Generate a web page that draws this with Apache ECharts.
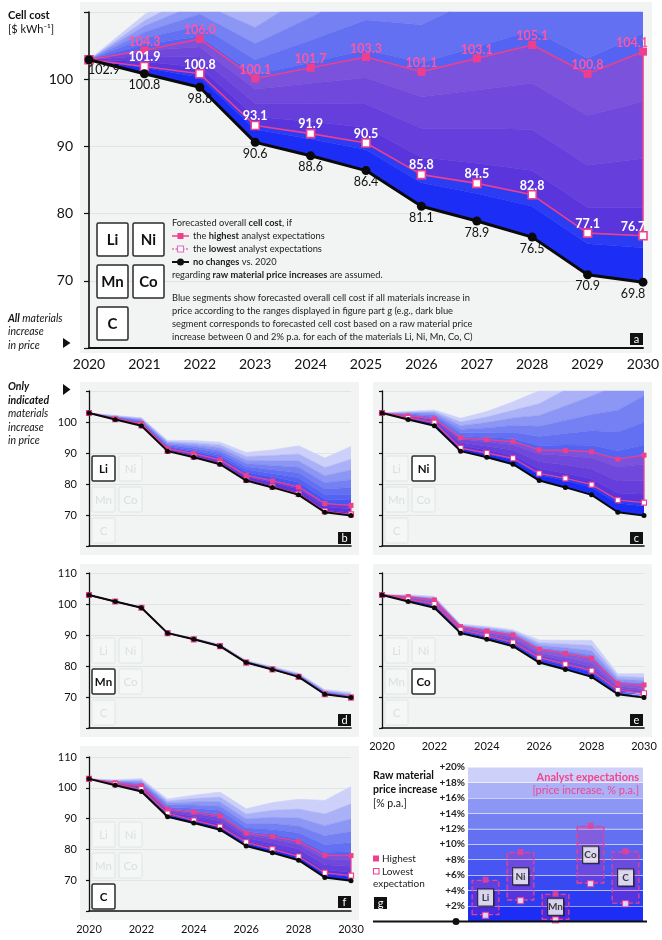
<!DOCTYPE html>
<html><head><meta charset="utf-8">
<script src="https://cdn.jsdelivr.net/npm/echarts/dist/echarts.min.js"></script>
<style>html,body{margin:0;padding:0;background:#fff}#c{width:662px;height:940px}</style>
</head><body><div id="c"></div>
<script>
// ---------------- DATA ----------------
const years = ['2020','2021','2022','2023','2024','2025','2026','2027','2028','2029','2030'];
const noChange = [102.9,100.8,98.8,90.6,88.6,86.4,81.1,78.9,76.5,70.9,69.8];

// panel a : all materials
const allHigh = [102.9,104.3,106.0,100.1,101.7,103.3,101.1,103.1,105.1,100.8,104.1];
const allLow  = [102.9,101.9,100.8,93.1,91.9,90.5,85.8,84.5,82.8,77.1,76.7];
const bandsAll = [
  [102.9,101.7,100.3,92.5,91.1,89.5,84.6,83.0,81.1,75.5,74.9],
  [102.9,102.6,101.8,94.4,93.7,92.8,88.4,87.5,86.4,80.9,80.9],
  [102.9,103.5,103.3,96.4,96.4,96.3,92.7,92.7,92.5,87.2,88.2],
  [102.9,104.3,104.8,98.5,99.4,100.2,97.4,98.4,99.4,94.6,96.7],
  [102.9,105.2,106.4,100.7,102.5,104.4,102.5,104.8,107.3,103.1,106.8],
  [102.9,106.1,108.0,102.9,105.8,108.8,108.1,112.0,116.2,112.9,118.7],
  [102.9,107.0,109.7,105.3,109.2,113.6,114.2,119.9,126.4,124.3,132.6],
  [102.9,107.9,111.3,107.7,112.9,118.7,120.9,128.8,137.8,137.3,148.9],
  [102.9,108.7,113.0,110.2,116.7,124.3,128.2,138.6,150.7,152.3,168.0],
  [102.9,109.6,114.7,112.7,120.7,130.1,136.1,149.4,165.3,169.5,190.3]
];
// panel b : Li
const liHigh = [102.9,101.2,99.5,91.4,89.8,87.8,82.8,81.0,79.0,73.7,73.1];
const liLow  = [102.9,100.9,98.9,90.7,88.8,86.6,81.3,79.1,76.8,71.2,70.2];
const bandsLi = [
  [102.9,100.9,99.0,90.9,89.0,86.9,81.7,79.6,77.3,71.7,70.7],
  [102.9,101.1,99.3,91.2,89.5,87.4,82.3,80.4,78.3,72.7,71.9],
  [102.9,101.2,99.5,91.5,89.9,88.0,83.0,81.3,79.4,73.8,73.2],
  [102.9,101.3,99.8,91.9,90.4,88.7,83.8,82.3,80.6,75.1,74.8],
  [102.9,101.5,100.1,92.2,90.9,89.3,84.7,83.4,82.0,76.6,76.7],
  [102.9,101.6,100.3,92.5,91.5,90.1,85.6,84.6,83.6,78.4,78.9],
  [102.9,101.7,100.6,92.9,92.1,90.8,86.6,86.0,85.4,80.4,81.4],
  [102.9,101.8,100.9,93.3,92.7,91.7,87.7,87.5,87.4,82.7,84.5],
  [102.9,102.0,101.2,93.7,93.3,92.6,88.9,89.2,89.7,85.3,88.0],
  [102.9,102.1,101.4,94.1,94.0,93.5,90.2,91.0,92.3,88.4,92.1]
];
// panel c : Ni
const niHigh = [102.9,102.0,101.0,94.9,94.3,93.7,91.0,90.8,90.4,88.0,89.3];
const niLow  = [102.9,101.3,99.8,91.6,90.0,88.3,83.4,81.8,79.8,74.8,74.0];
const bandsNi = [
  [102.9,101.1,99.3,91.5,89.7,87.8,82.9,81.1,78.9,73.8,72.9],
  [102.9,101.3,99.8,92.4,91.0,89.3,85.0,83.5,81.7,77.1,76.7],
  [102.9,101.6,100.3,93.4,92.2,91.0,87.2,86.2,84.8,81.0,81.1],
  [102.9,101.9,100.7,94.4,93.6,92.7,89.7,89.2,88.4,85.5,86.4],
  [102.9,102.1,101.3,95.4,95.0,94.7,92.4,92.6,92.5,90.7,92.6],
  [102.9,102.4,101.8,96.5,96.5,96.7,95.3,96.3,97.2,96.8,99.9],
  [102.9,102.7,102.3,97.6,98.1,98.9,98.6,100.5,102.4,103.8,108.5],
  [102.9,102.9,102.9,98.8,99.8,101.3,102.1,105.2,108.4,111.8,118.6],
  [102.9,103.2,103.4,100.0,101.6,103.8,105.9,110.4,115.1,121.1,130.3],
  [102.9,103.5,103.9,101.2,103.4,106.5,110.1,116.1,122.7,131.6,144.0]
];
// panel d : Mn
const mnHigh = [102.9,100.8,98.8,90.6,88.7,86.5,81.2,79.0,76.6,71.0,70.0];
const mnLow  = [102.9,100.8,98.8,90.6,88.6,86.4,81.1,78.9,76.5,70.9,69.8];
const bandsMn = [
  [102.9,100.8,98.8,90.6,88.6,86.4,81.1,78.9,76.6,71.0,69.9],
  [102.9,100.8,98.8,90.6,88.7,86.5,81.2,79.0,76.6,71.0,70.0],
  [102.9,100.8,98.8,90.7,88.7,86.5,81.2,79.1,76.7,71.1,70.1],
  [102.9,100.8,98.9,90.7,88.7,86.6,81.3,79.2,76.8,71.2,70.2],
  [102.9,100.8,98.9,90.7,88.8,86.6,81.4,79.2,76.9,71.4,70.4],
  [102.9,100.8,98.9,90.7,88.8,86.7,81.4,79.3,77.0,71.5,70.5],
  [102.9,100.9,98.9,90.8,88.8,86.7,81.5,79.4,77.1,71.7,70.7],
  [102.9,100.9,98.9,90.8,88.9,86.8,81.6,79.5,77.3,71.9,71.0],
  [102.9,100.9,98.9,90.8,88.9,86.9,81.7,79.7,77.5,72.1,71.3],
  [102.9,100.9,99.0,90.9,89.0,86.9,81.8,79.8,77.7,72.4,71.6]
];
// panel e : Co
const coHigh = [102.9,102.4,101.3,92.7,91.3,90.0,85.4,84.1,82.5,74.4,73.9];
const coLow  = [102.9,101.5,100.0,91.7,89.8,87.6,82.7,80.6,78.5,72.3,71.2];
const bandsCo = [
  [102.9,101.0,99.2,90.9,89.0,86.9,81.6,79.5,77.2,71.3,70.2],
  [102.9,101.3,99.6,91.2,89.4,87.4,82.2,80.2,77.9,71.7,70.7],
  [102.9,101.5,100.0,91.6,89.8,87.9,82.9,81.0,78.8,72.2,71.2],
  [102.9,101.8,100.4,91.9,90.2,88.5,83.6,81.8,79.8,72.8,71.9],
  [102.9,102.0,100.8,92.3,90.7,89.2,84.3,82.8,81.0,73.5,72.7],
  [102.9,102.2,101.2,92.6,91.2,89.8,85.2,83.9,82.3,74.3,73.6],
  [102.9,102.4,101.6,92.9,91.6,90.4,85.9,84.9,83.5,75.0,74.4],
  [102.9,102.6,101.9,93.1,92.0,90.9,86.7,85.9,84.9,75.8,75.3],
  [102.9,102.8,102.2,93.3,92.4,91.3,87.5,87.1,86.6,76.7,76.3],
  [102.9,103.0,102.5,93.5,92.8,91.7,88.4,88.3,88.3,77.5,77.5]
];
// panel f : C
const cHigh = [102.9,101.6,100.6,93.0,92.1,90.9,85.3,84.2,82.6,78.1,78.0];
const cLow  = [102.9,101.2,99.6,91.7,89.4,87.4,82.3,80.1,77.7,72.4,71.5];
const bandsC = [
  [102.9,101.0,99.2,91.1,89.3,87.3,81.9,79.8,77.5,72.1,71.1],
  [102.9,101.2,99.6,91.6,90.0,88.2,82.7,80.9,78.7,73.4,72.6],
  [102.9,101.3,100.0,92.1,90.8,89.2,83.7,82.1,80.1,75.0,74.5],
  [102.9,101.5,100.4,92.7,91.6,90.3,84.7,83.4,81.6,76.9,76.6],
  [102.9,101.7,100.8,93.3,92.5,91.4,85.8,84.9,83.4,79.1,79.2],
  [102.9,101.9,101.2,93.8,93.4,92.7,87.0,86.5,85.4,81.5,82.2],
  [102.9,102.0,101.7,94.5,94.4,94.0,88.4,88.4,87.6,84.4,85.8],
  [102.9,102.2,102.1,95.1,95.4,95.4,89.9,90.4,90.2,87.7,89.9],
  [102.9,102.4,102.5,95.7,96.5,97.0,91.5,92.7,93.1,91.5,94.8],
  [102.9,102.6,103.0,96.4,97.6,98.6,93.2,95.2,96.3,95.9,100.4]
];
// panel g : raw material price increase expectations (% p.a.)
const materials = ['Li','Ni','Mn','Co','C'];
const expHigh = [5.4, 9.0, 3.6, 12.4, 9.1];
const expLow  = [0.8, 2.7, 0.2, 4.9, 2.3];

// ---------------- STYLE ----------------
const FONT = 'Lato, "Open Sans", sans-serif';
const PINK = '#ee3f8e';
const PINK_FILL = 'rgba(235,30,150,0.25)';
const BAND = ['#1c2df5','#2b3cf3','#3949f2','#4756f2','#5563f2','#6370f2','#7580f3','#8c96f4','#aab1f6','#cdd1f9'];
const BG = '#f2f4f4';
const GRIDLINE = '#e0e4e4';

const panels = [
  {key:'a', grid:{left:89,top:12,width:554,height:336}, bands:bandsAll, high:allHigh, low:allLow, big:true,  xLab:true,  yMode:'hide110', active:'all'},
  {key:'b', grid:{left:89,top:391,width:262,height:155}, bands:bandsLi, high:liHigh, low:liLow, big:false, xLab:false, yMode:'hide110', active:'Li'},
  {key:'c', grid:{left:382,top:391,width:262,height:155}, bands:bandsNi, high:niHigh, low:niLow, big:false, xLab:false, yMode:'none', active:'Ni'},
  {key:'d', grid:{left:89,top:573,width:262,height:155}, bands:bandsMn, high:mnHigh, low:mnLow, big:false, xLab:false, yMode:'show110', active:'Mn'},
  {key:'e', grid:{left:382,top:573,width:262,height:155}, bands:bandsCo, high:coHigh, low:coLow, big:false, xLab:true, yMode:'none', active:'Co'},
  {key:'f', grid:{left:89,top:757,width:262,height:154}, bands:bandsC, high:cHigh, low:cLow, big:false, xLab:true, yMode:'show110', active:'C'}
];

const grids = [], xAxes = [], yAxes = [], series = [];

panels.forEach((p, idx) => {
  grids.push(Object.assign({outerBoundsMode:'none', containLabel:false}, p.grid));
  xAxes.push({type:'category', gridIndex:idx, data:years, boundaryGap:false,
    axisLine:{onZero:false, lineStyle:{color:'#111', width:p.big?2:1.6}},
    axisTick:{show:false}, splitLine:{show:false},
    axisLabel:{show:p.xLab, interval:p.big?0:1, color:'#111', fontFamily:FONT, fontSize:p.big?14:11, margin:p.big?9:12.5}});
  yAxes.push({type:'value', gridIndex:idx, min:60, max:110, interval:10,
    axisLine:{show:true, onZero:false, lineStyle:{color:'#111', width:p.big?1.6:1.3}},
    axisTick:{show:true, length:p.big?5:3, lineStyle:{color:'#111', width:1.2}},
    splitLine:{show:true, lineStyle:{color:GRIDLINE, width:1}},
    axisLabel:{show:p.yMode!=='none', color:'#111', fontFamily:FONT, fontSize:p.big?14:11, margin:p.big?16:12,
      formatter:v => (v===60 || (p.yMode==='hide110' && v===110)) ? '' : String(v)}});

  const base = {xAxisIndex:idx, yAxisIndex:idx, silent:true, animation:false, showSymbol:false};
  // band stack on top of the "no changes" line
  series.push(Object.assign({type:'line', stack:'band'+idx, data:noChange.slice(), symbol:'none', lineStyle:{width:0, color:BAND[0]}, z:2}, base));
  let prev = noChange;
  p.bands.forEach((b,k) => {
    const pr = prev;
    series.push(Object.assign({type:'line', stack:'band'+idx, data:b.map((v,i)=>+(v-pr[i]).toFixed(3)),
      symbol:'none', lineStyle:{width:0.6, color:BAND[k]}, itemStyle:{color:BAND[k]}, areaStyle:{color:BAND[k], opacity:1}, z:2}, base));
    prev = b;
  });
  // pink range between lowest and highest
  series.push(Object.assign({type:'line', stack:'pink'+idx, data:p.low.slice(), symbol:'none', lineStyle:{width:0, color:PINK}, z:3}, base));
  series.push(Object.assign({type:'line', stack:'pink'+idx, data:p.high.map((v,i)=>+(v-p.low[i]).toFixed(3)),
    symbol:'none', lineStyle:{width:0, color:PINK}, itemStyle:{color:PINK_FILL}, areaStyle:{color:PINK_FILL, opacity:1}, z:3}, base));
  series.push(Object.assign({type:'line', data:[[years[10],p.low[10]],[years[10],p.high[10]]], symbol:'none', lineStyle:{color:PINK, width:p.big?1.6:1.2}, z:4}, base));

  const lab = (show, pos, color, weight, dist) => ({show, position:pos, color, fontWeight:weight, fontFamily:FONT, fontSize:12.5, distance:dist,
    formatter: q => q.dataIndex===0 ? '' : Number(q.value).toFixed(1)});
  const lineBase = Object.assign({}, base, {showSymbol:true});
  // highest
  series.push(Object.assign({type:'line', data:p.high.map((v,i)=>{
      const d = {value:v};
      if (p.big && i===10) d.label = {offset:[-11,0]};
      return d; }),
    symbol:'rect', symbolSize:p.big?8:5, lineStyle:{color:PINK, width:p.big?1.6:1.3}, itemStyle:{color:PINK},
    label: lab(p.big, 'top', '#ff55a2', 'bold', -2), z:5}, lineBase));
  // lowest
  series.push(Object.assign({type:'line', data:p.low.map((v,i)=>{
      const d = {value:v};
      if (p.big && i===10) d.label = {offset:[-10,0]};
      return d; }),
    symbol:'rect', symbolSize:p.big?8:5, lineStyle:{color:PINK, width:p.big?1.6:1.3}, itemStyle:{color:'#fff', borderColor:PINK, borderWidth:p.big?1.6:1.1},
    label: lab(p.big, 'top', '#ffffff', 'bold', -2), z:6}, lineBase));
  // no changes
  series.push(Object.assign({type:'line', data:noChange.map((v,i)=>{
      const d = {value:v};
      if (p.big && i===0) d.label = {offset:[15,-1]};
      if (p.big && i===10) d.label = {offset:[-10,0]};
      return d; }),
    symbol:'circle', symbolSize:p.big?9:5, lineStyle:{color:'#0a0a0a', width:p.big?3:2}, itemStyle:{color:'#0a0a0a'},
    label: Object.assign(lab(p.big, 'bottom', '#111', 'normal', 0.5), {formatter:q=>Number(q.value).toFixed(1)}), z:7}, lineBase));
});

// panel g grid
const gi = panels.length;
grids.push({left:468, top:767, width:175, height:154.5, outerBoundsMode:'none', containLabel:false});
xAxes.push({type:'category', gridIndex:gi, data:materials, axisLine:{show:false}, axisTick:{show:false}, axisLabel:{show:false}, splitLine:{show:false}});
yAxes.push({type:'value', gridIndex:gi, min:0, max:20, interval:2,
  axisLine:{show:false}, axisTick:{show:false},
  splitArea:{show:true, areaStyle:{color:BAND, opacity:1}},
  splitLine:{show:true, lineStyle:{color:'rgba(255,255,255,0.55)', width:1}},
  axisLabel:{show:true, color:'#222', fontFamily:FONT, fontWeight:'bold', fontSize:10, margin:3,
    formatter:v => v===0 ? '' : '+' + v + '%'}});
const gb = {xAxisIndex:gi, yAxisIndex:gi, silent:true, animation:false};
series.push(Object.assign({type:'bar', stack:'g', data:expLow, barWidth:28, itemStyle:{color:'rgba(0,0,0,0)'}, z:3}, gb));
series.push(Object.assign({type:'bar', stack:'g', data:expHigh.map((v,i)=>+(v-expLow[i]).toFixed(2)), barWidth:28,
  itemStyle:{color:'rgba(235,30,150,0.22)', borderColor:PINK, borderWidth:1.3, borderType:'dashed'}, z:3}, gb));
series.push(Object.assign({type:'scatter', data:expHigh, symbol:'rect', symbolSize:6, itemStyle:{color:PINK}, z:5}, gb));
series.push(Object.assign({type:'scatter', data:expLow, symbol:'rect', symbolSize:6, itemStyle:{color:'#fff', borderColor:PINK, borderWidth:1.2}, z:5}, gb));
series.push(Object.assign({type:'scatter', data:expHigh.map((v,i)=>({value:(v+expLow[i])/2, name:materials[i]})),
  symbol:'rect', symbolSize:[16,17],
  itemStyle:{color:'#fff', borderColor:'#111', borderWidth:1, shadowColor:'rgba(0,0,0,0.3)', shadowBlur:1, shadowOffsetX:1, shadowOffsetY:1},
  label:{show:true, position:'inside', formatter:q=>q.name, color:'#111', fontFamily:FONT, fontWeight:'bold', fontSize:10}, z:6}, gb));

// ---------------- GRAPHICS ----------------
const G = [];
const T = (x,y,text,opt) => ({type:'text', x, y, z:100, silent:true,
  style:Object.assign({text, fontFamily:FONT, fontSize:10, fill:'#222', align:'left', verticalAlign:'middle'}, opt||{})});
const R = (x,y,w,h,style,z) => ({type:'rect', z:z===undefined?100:z, silent:true, shape:{x,y,width:w,height:h}, style});

// panel backgrounds
G.push(R(80,2,572,351,{fill:BG},-10));
G.push(R(80,382,279,173,{fill:BG},-10));
G.push(R(373,382,279,173,{fill:BG},-10));
G.push(R(80,564,279,173,{fill:BG},-10));
G.push(R(373,564,279,173,{fill:BG},-10));
G.push(R(80,746,279,174,{fill:BG},-10));

// element boxes
function elemBoxes(ox, oy, w, h, dx, dy, fs, active) {
  const pos = {Li:[0,0], Ni:[dx,0], Mn:[0,dy], Co:[dx,dy], C:[0,2*dy]};
  materials.forEach(m => {
    const on = active==='all' || active===m;
    const x = ox+pos[m][0], y = oy+pos[m][1];
    G.push({type:'rect', z:100, silent:true, shape:{x,y,width:w,height:h,r:1.5},
      style:{fill:on?'#ffffff':'#f5f7f7', stroke:on?'#2a2a2a':'#e0e4e4', lineWidth:on?1.5:1}});
    G.push(T(x+w/2, y+h/2+0.5, m, {align:'center', fontSize:fs, fontWeight:on?'bold':'normal', fill:on?'#111':'#dadfdf'}));
  });
}
elemBoxes(97,223,31,33,36,42,15,'all');
const smallOff = {b:[0,0], c:[293,0], d:[0,182], e:[293,182], f:[0,366]};
panels.slice(1).forEach(p => {
  const o = smallOff[p.key];
  elemBoxes(92+o[0], 456+o[1], 23, 25, 27, 31, 11.5, p.active);
});

// panel letters
function letter(x,y,ch){ G.push(R(x,y,13,12,{fill:'#111'})); G.push(T(x+6.5,y+6,ch,{align:'center', fill:'#fff', fontSize:11})); }
letter(630,333,'a'); letter(338,532,'b'); letter(630,532,'c');
letter(338,714,'d'); letter(630,714,'e'); letter(338,896,'f'); letter(374,897,'g');

// left titles
G.push(T(8,15.5,'Cell cost',{fontWeight:'bold', fontSize:11, fill:'#111'}));
G.push(T(8,29,'[$ kWh\u207B\u00B9]',{fontSize:11, fill:'#111'}));
const it = {fontStyle:'italic', fontSize:10.5, fill:'#111', rich:{b:{fontStyle:'italic', fontWeight:'bold', fontSize:10.5, fontFamily:FONT, fill:'#111'}}};
G.push(T(8,318.5,'{b|All} materials',it));
G.push(T(8,332,'increase',it));
G.push(T(8,345.5,'in price',it));
G.push({type:'polygon', z:100, silent:true, shape:{points:[[63,338],[70.5,343],[63,348]]}, style:{fill:'#111'}});
G.push(T(8,387,'{b|Only}',it));
G.push(T(8,400.5,'{b|indicated}',it));
G.push(T(8,414,'materials',it));
G.push(T(8,427.5,'increase',it));
G.push(T(8,441,'in price',it));
G.push({type:'polygon', z:100, silent:true, shape:{points:[[63,384],[70.5,389.5],[63,395]]}, style:{fill:'#111'}});

// legend panel a
const lg = {fontSize:9.3, fill:'#222', rich:{b:{fontWeight:'bold', fontSize:9.3, fontFamily:FONT, fill:'#222'}}};
G.push(T(172,223,'Forecasted overall {b|cell cost}, if',lg));
G.push({type:'line', z:100, silent:true, shape:{x1:172,y1:236,x2:189,y2:236}, style:{stroke:PINK, lineWidth:1.5}});
G.push(R(177.5,233,6,6,{fill:PINK}));
G.push(T(193,236,'the {b|highest} analyst expectations',lg));
G.push({type:'line', z:100, silent:true, shape:{x1:172,y1:249,x2:189,y2:249}, style:{stroke:'#e070c0', lineWidth:1.5, lineDash:[2,1.5]}});
G.push(R(177.5,246,6,6,{fill:'#fff', stroke:'#e070c0', lineWidth:1.2}));
G.push(T(193,249,'the {b|lowest} analyst expectations',lg));
G.push({type:'line', z:100, silent:true, shape:{x1:172,y1:262,x2:189,y2:262}, style:{stroke:'#111', lineWidth:2}});
G.push({type:'circle', z:100, silent:true, shape:{cx:180.5,cy:262,r:3.5}, style:{fill:'#111'}});
G.push(T(193,262,'{b|no changes} vs. 2020',lg));
G.push(T(172,274.5,'regarding {b|raw material price increases} are assumed.',lg));
G.push(T(172,297.5,'Blue segments show forecasted overall cell cost if all materials increase in',lg));
G.push(T(172,310.5,'price according to the ranges displayed in figure part g (e.g., dark blue',lg));
G.push(T(172,323.5,'segment corresponds to forecasted cell cost based on a raw material price',lg));
G.push(T(172,336.5,'increase between 0 and 2% p.a. for each of the materials Li, Ni, Mn, Co, C)',lg));

// panel g texts
G.push(T(373,776,'Raw material',{fontWeight:'bold', fontSize:10.5, fill:'#111'}));
G.push(T(373,789.5,'price increase',{fontWeight:'bold', fontSize:10.5, fill:'#111'}));
G.push(T(373,803.5,'[% p.a.]',{fontSize:10.5, fill:'#111'}));
G.push(T(639,777,'Analyst expectations',{align:'right', fontWeight:'bold', fontSize:11, fill:'#f0468f'}));
G.push(T(639,790.5,'[price increase, % p.a.]',{align:'right', fontSize:11, fill:'#f0468f'}));
G.push(R(373,855.5,6,6,{fill:PINK}));
G.push(T(382,858.5,'Highest',{fontSize:10, fill:'#222'}));
G.push(R(373.5,868.5,5.5,5.5,{fill:'#fff', stroke:PINK, lineWidth:1.1}));
G.push(T(382,871.5,'Lowest',{fontSize:10, fill:'#222'}));
G.push(T(373,883.5,'expectation',{fontSize:10, fill:'#222'}));
G.push({type:'line', z:100, silent:true, shape:{x1:373,y1:921.5,x2:647,y2:921.5}, style:{stroke:'#111', lineWidth:2}});
G.push({type:'circle', z:100, silent:true, shape:{cx:456,cy:921.5,r:3.5}, style:{fill:'#111'}});

const chart = echarts.init(document.getElementById('c'), null, {renderer:'canvas'});
chart.setOption({
  animation:false,
  backgroundColor:'#ffffff',
  grid:grids, xAxis:xAxes, yAxis:yAxes, series,
  graphic:{elements:G}
});
</script></body></html>
